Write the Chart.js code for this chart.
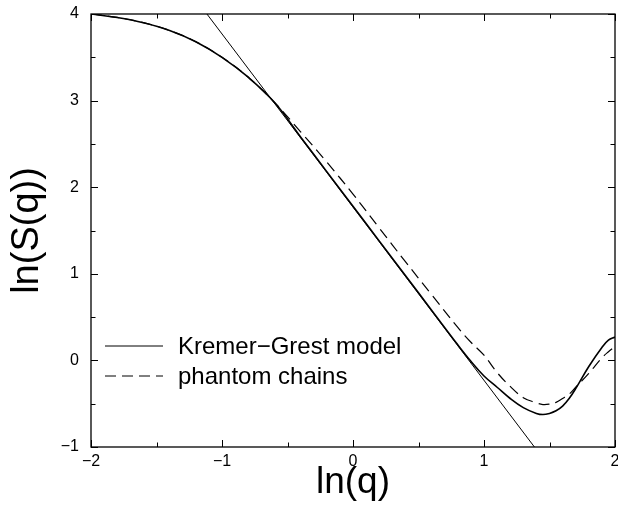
<!DOCTYPE html>
<html>
<head>
<meta charset="utf-8">
<script src="https://cdn.jsdelivr.net/npm/chart.js@4/dist/chart.umd.min.js"></script>
<style>
html,body{margin:0;padding:0;background:#fff;overflow:hidden;}
#wrap{width:630px;height:506px;}
</style>
</head>
<body>
<div id="wrap"><canvas id="sq" width="630" height="506"></canvas></div>
<script>
/* DATA */
let qX      = [-2.0,-1.8,-1.6,-1.4,-1.2,-1.0,-0.8,-0.6,-0.4,-0.2,0.0,0.2,0.4,0.6,0.8,0.9,1.0,1.1,1.2,1.3,1.4,1.45,1.5,1.55,1.6,1.65,1.7,1.8,1.9,1.95,2.0];
let kremer  = [4.00,3.96,3.90,3.81,3.68,3.50,3.27,2.98,2.58,2.18,1.78,1.38,0.98,0.58,0.18,-0.01,-0.18,-0.31,-0.44,-0.545,-0.612,-0.625,-0.612,-0.582,-0.528,-0.44,-0.325,-0.07,0.15,0.235,0.27];
let phantom = [4.00,3.96,3.90,3.81,3.68,3.50,3.27,2.98,2.64,2.29,1.92,1.53,1.14,0.76,0.38,0.21,0.06,-0.14,-0.30,-0.43,-0.49,-0.51,-0.505,-0.485,-0.44,-0.39,-0.31,-0.15,0.03,0.10,0.16];
let fitX = [-1.115, 1.385];
let fitY = [4, -1];
let xTicks = [-2,-1,0,1,2];
let yTicks = [-1,0,1,2,3,4];

let FONT = "'Liberation Sans', Arial, Helvetica, sans-serif";

function pts(xs, ys){
return xs.map((x,i)=>({x:x, y:ys[i]}));
}

function minus(v){
return String(v).replace("-", "\u2212");
}

/* FRAME + INWARD TICKS + LEGEND */
let framePlugin = {
id:"frame",
afterDatasetsDraw(chart){
let c = chart.ctx, a = chart.chartArea;
let xs = chart.scales.x, ys = chart.scales.y;
c.save();
c.strokeStyle = "#000";
c.lineWidth = 1.3;
c.strokeRect(a.left, a.top, a.right-a.left, a.bottom-a.top);
c.lineWidth = 1;
c.beginPath();
for(let v=xTicks[0]; v<=xTicks[xTicks.length-1]+0.01; v+=0.5){
let px = Math.round(xs.getPixelForValue(v))+0.5;
let len = Number.isInteger(v) ? 7 : 4.5;
c.moveTo(px, a.bottom); c.lineTo(px, a.bottom-len);
c.moveTo(px, a.top); c.lineTo(px, a.top+len);
}
for(let v=yTicks[0]; v<=yTicks[yTicks.length-1]+0.01; v+=0.5){
let py = Math.round(ys.getPixelForValue(v))+0.5;
let len = Number.isInteger(v) ? 7 : 4.5;
c.moveTo(a.left, py); c.lineTo(a.left+len, py);
c.moveTo(a.right, py); c.lineTo(a.right-len, py);
}
c.stroke();

/* legend */
let lx = a.left+14, ly = 346;
[0,1].forEach(i=>{
let ds = chart.data.datasets[i];
let y = ly + i*30;
c.beginPath();
c.lineWidth = 1;
c.setLineDash(ds.borderDash || []);
c.moveTo(lx, y); c.lineTo(lx+58, y);
c.stroke();
c.setLineDash([]);
c.fillStyle = "#000";
c.font = "24px " + FONT;
c.textBaseline = "alphabetic";
c.fillText(ds.label, lx+73, y+7.5);
});
c.restore();
}
};

new Chart(document.getElementById("sq"),{
type:"scatter",
data:{
datasets:[
{label:"Kremer\u2212Grest model", data:pts(qX,kremer), showLine:true, borderColor:"#000", borderWidth:1.6, pointRadius:0, tension:0.4},
{label:"phantom chains", data:pts(qX,phantom), showLine:true, borderColor:"#000", borderWidth:1.2, borderDash:[11,6], pointRadius:0, tension:0.4},
{label:"fit", data:pts(fitX,fitY), showLine:true, borderColor:"#000", borderWidth:1, pointRadius:0}
]
},
options:{
responsive:false,
animation:false,
devicePixelRatio:1,
layout:{padding:{left:0, top:14, right:15, bottom:0}},
plugins:{legend:{display:false}, tooltip:{enabled:false}},
scales:{
x:{
type:"linear", min:-2, max:2,
grid:{display:false, drawTicks:false},
border:{display:false},
ticks:{stepSize:1, padding:5, color:"#000", font:{family:FONT, size:16}, maxRotation:0, callback:minus},
title:{display:true, text:"ln(q)", color:"#000", font:{family:FONT, size:37}, padding:{top:0, bottom:1}},
afterFit(s){ s.height = 59; }
},
y:{
type:"linear", min:-1, max:4,
grid:{display:false, drawTicks:false},
border:{display:false},
ticks:{stepSize:1, padding:12, color:"#000", font:{family:FONT, size:16}, callback:minus},
title:{display:true, text:"ln(S(q))", color:"#000", font:{family:FONT, size:38}, padding:{top:5, bottom:0}},
afterFit(s){ s.width = 91; s.paddingTop = 9; s.paddingBottom = 9; }
}
}
},
plugins:[framePlugin]
});
</script>
</body>
</html>
